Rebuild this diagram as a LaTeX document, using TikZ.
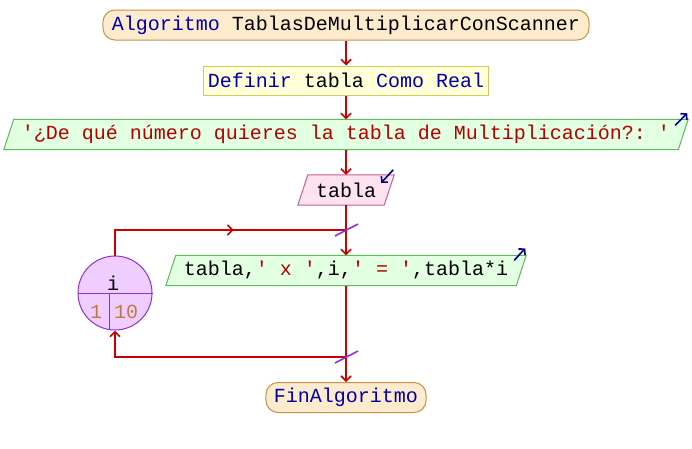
\documentclass[tikz,border=0pt]{standalone}
\usepackage{fontspec}
\setmonofont{Liberation Mono}
\usepackage{tikz}
\usetikzlibrary{arrows.meta, calc, backgrounds}
\usepackage{xcolor}
\definecolor{rojo}{RGB}{205,0,0}
\definecolor{cadena}{RGB}{180,0,0}
\definecolor{clave}{RGB}{0,0,170}
\definecolor{azulOsc}{RGB}{0,0,140}
\definecolor{violeta}{RGB}{140,50,210}
\definecolor{numero}{RGB}{185,125,60}
\newcommand{\clave}[1]{\textcolor{clave}{#1}}
\newcommand{\cad}[1]{\textcolor{cadena}{#1}}
\newcommand{\flechaDer}{
\tikz \draw[rojo, line width=1.6pt, -{Straight Barb[length=5pt,width=10pt]}] (-1pt,0) -- (1pt,0);
}
\newcommand{\marcoParalelo}[2]{
\draw[#2] ($(#1.south west)+(-5,0)$) -- ($(#1.north west)+(5,0)$) -- ($(#1.north east)+(5,0)$) -- ($(#1.south east)+(-5,0)$) -- cycle;
}

\begin{document}
\begin{tikzpicture}[x=1pt, y=1pt,
    every node/.style={font=\ttfamily\fontsize{20}{24}\selectfont},
    terminal/.style={draw={rgb,255:red,200;green,145;blue,75}, fill={rgb,255:red,253;green,235;blue,205}, rounded corners=12pt, minimum height=30, inner xsep=9, line width=1pt},
    proceso/.style={draw={rgb,255:red,205;green,205;blue,90}, fill={rgb,255:red,255;green,255;blue,218}, minimum height=29, inner xsep=4, line width=1pt},
    paralelo/.style={minimum height=30, inner xsep=13},
    salida/.style={draw={rgb,255:red,95;green,185;blue,95}, fill={rgb,255:red,226;green,255;blue,226}, line width=1pt},
    entrada/.style={draw={rgb,255:red,200;green,95;blue,145}, fill={rgb,255:red,255;green,226;blue,240}, line width=1pt},
    flujo/.style={rojo, line width=1.6pt},
    flecha/.style={flujo, -{Straight Barb[length=5pt,width=10pt]}},
    corte/.style={violeta, line width=1.6pt},
    esquina/.style={azulOsc, line width=1.6pt, -{Straight Barb[length=4pt,width=9pt]}}]
    \useasboundingbox (0,0) rectangle (692,-448);
    % Bloques
    \node[terminal] (inicio) at (346,-25) {\clave{Algoritmo} TablasDeMultiplicarConScanner};
    \node[proceso] (definir) at (346,-80.5) {\clave{Definir} tabla \clave{Como Real}};
    \node[paralelo] (pregunta) at (346,-134.5) {\cad{'¿De qué número quieres la tabla de Multiplicación?: '}};
    \node[paralelo] (leer) at (346,-190) {tabla};
    \node[paralelo] (escribir) at (346,-270.5) {tabla,\cad{' x '},i,\cad{' = '},tabla*i};
    \node[terminal, inner xsep=8] (fin) at (346,-397.5) {\clave{FinAlgoritmo}};
    \begin{scope}[on background layer]
        \marcoParalelo{pregunta}{salida}
        \marcoParalelo{leer}{entrada}
        \marcoParalelo{escribir}{salida}
    \end{scope}
    % Ciclo Para
    \node[circle, draw=violeta, fill={rgb,255:red,240;green,205;blue,255}, line width=1pt, minimum size=74, inner sep=0] (bucle) at (115,-293) {};
    \draw[violeta, line width=1pt] (bucle.west) -- (bucle.east);
    \draw[violeta, line width=1pt] ($(bucle.center)+(-6,0)$) -- ($(bucle.center)+(-6,-36.5)$);
    \node (var) at ($(bucle.center)+(-2,10)$) {i};
    \node[numero] (desde) at ($(bucle.center)+(-19,-19)$) {1};
    \node[numero] (hasta) at ($(bucle.center)+(11,-19)$) {10};
    \coordinate (cruce1) at (346,-230);
    \coordinate (cruce2) at (346,-357);
    % Flechas
    \draw[flecha] (inicio) -- (definir);
    \draw[flecha] (definir) -- (pregunta);
    \draw[flecha] (pregunta) -- (leer);
    \draw[flecha] (leer) -- (escribir);
    \draw[flujo] (bucle.north) |- (cruce1) node[pos=0.75, sloped, inner sep=0]{\flechaDer};
    \draw[flujo] (escribir) -- (cruce2);
    \draw[flecha] (cruce2) -| (bucle.south);
    \draw[flecha] (cruce2) -- (fin);
    \draw[corte] ($(cruce1)+(-11,-6)$) -- ($(cruce1)+(12,6)$);
    \draw[corte] ($(cruce2)+(-11,-6)$) -- ($(cruce2)+(12,6)$);
    % Marcas de entrada/salida
    \draw[esquina] ($(pregunta.north east)+(-8,-6)$) -- ($(pregunta.north east)+(4,6)$);
    \draw[esquina] ($(escribir.north east)+(-7,-5)$) -- ($(escribir.north east)+(4,7)$);
    \draw[esquina] ($(leer.north east)+(4,5)$) -- ($(leer.north east)+(-8,-8)$);
\end{tikzpicture}
\end{document}
